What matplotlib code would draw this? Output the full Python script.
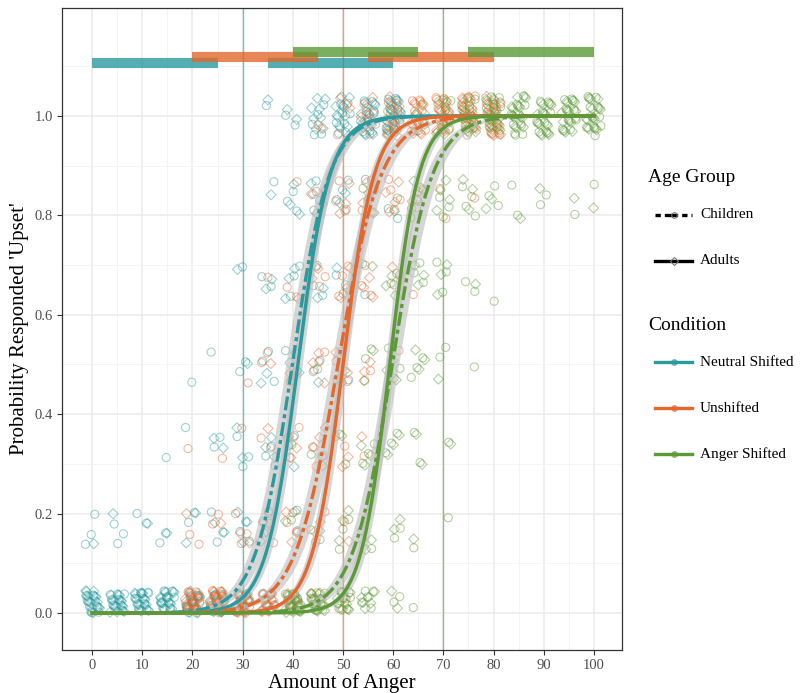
import numpy as np
import matplotlib
matplotlib.use('Agg')
import matplotlib.pyplot as plt
from matplotlib.lines import Line2D

plt.rcParams['font.family'] = ['Liberation Serif', 'DejaVu Serif']

# response levels (proportion of 6 trials answered 'upset')
levels = [0, 1/6, 2/6, 3/6, 4/6, 5/6, 1]

# stimulus levels shown to each condition
stim_neutral = [0, 5, 10, 15, 20, 25, 30, 35, 40, 45, 50, 55, 60]
stim_unshift = [20, 25, 30, 35, 40, 45, 50, 55, 60, 65, 70, 75, 80]
stim_anger = [40, 45, 50, 55, 60, 65, 70, 75, 80, 85, 90, 95, 100]

# counts of participants per level (rows) and stimulus (columns)
neutral_child = [[12, 12, 13, 12, 11, 9, 6, 3, 1, 0, 0, 0, 0],
                 [3, 3, 2, 2, 2, 3, 3, 2, 1, 0, 0, 0, 0],
                 [0, 0, 0, 1, 1, 2, 3, 3, 2, 1, 0, 0, 0],
                 [0, 0, 0, 0, 1, 1, 2, 3, 3, 2, 1, 0, 0],
                 [0, 0, 0, 0, 0, 0, 1, 2, 3, 3, 2, 1, 0],
                 [0, 0, 0, 0, 0, 0, 0, 1, 3, 4, 4, 3, 2],
                 [0, 0, 0, 0, 0, 0, 0, 1, 2, 5, 8, 11, 13]]
neutral_adult = [[14, 14, 14, 14, 13, 11, 8, 4, 1, 0, 0, 0, 0],
                 [1, 1, 1, 1, 2, 2, 3, 2, 1, 0, 0, 0, 0],
                 [0, 0, 0, 0, 0, 2, 2, 3, 2, 0, 0, 0, 0],
                 [0, 0, 0, 0, 0, 0, 1, 2, 3, 1, 0, 0, 0],
                 [0, 0, 0, 0, 0, 0, 1, 2, 3, 2, 1, 0, 0],
                 [0, 0, 0, 0, 0, 0, 0, 1, 3, 4, 2, 1, 0],
                 [0, 0, 0, 0, 0, 0, 0, 1, 2, 8, 12, 14, 15]]
unshift_child = [[12, 12, 10, 7, 4, 2, 1, 0, 0, 0, 0, 0, 0],
                 [2, 2, 3, 3, 3, 2, 1, 0, 0, 0, 0, 0, 0],
                 [1, 1, 1, 2, 3, 3, 2, 1, 0, 0, 0, 0, 0],
                 [0, 0, 1, 2, 2, 3, 3, 2, 1, 0, 0, 0, 0],
                 [0, 0, 0, 1, 2, 3, 3, 3, 2, 1, 0, 0, 0],
                 [0, 0, 0, 0, 1, 1, 3, 4, 4, 3, 2, 1, 0],
                 [0, 0, 0, 0, 0, 1, 2, 5, 8, 11, 13, 14, 15]]
unshift_adult = [[14, 14, 13, 11, 7, 3, 1, 0, 0, 0, 0, 0, 0],
                 [1, 1, 2, 2, 3, 2, 1, 0, 0, 0, 0, 0, 0],
                 [0, 0, 0, 1, 3, 3, 2, 1, 0, 0, 0, 0, 0],
                 [0, 0, 0, 1, 1, 3, 3, 2, 0, 0, 0, 0, 0],
                 [0, 0, 0, 0, 1, 2, 3, 3, 1, 0, 0, 0, 0],
                 [0, 0, 0, 0, 0, 1, 3, 4, 4, 2, 0, 0, 0],
                 [0, 0, 0, 0, 0, 1, 2, 5, 10, 13, 15, 15, 15]]
anger_child = [[12, 11, 8, 5, 2, 1, 0, 0, 0, 0, 0, 0, 0],
               [2, 2, 3, 3, 2, 1, 1, 0, 0, 0, 0, 0, 0],
               [1, 1, 2, 3, 3, 2, 1, 0, 0, 0, 0, 0, 0],
               [0, 1, 1, 2, 3, 3, 2, 1, 0, 0, 0, 0, 0],
               [0, 0, 1, 1, 3, 3, 3, 2, 1, 0, 0, 0, 0],
               [0, 0, 0, 1, 1, 3, 3, 4, 3, 2, 2, 1, 1],
               [0, 0, 0, 0, 1, 2, 5, 8, 11, 13, 13, 14, 14]]
anger_adult = [[14, 13, 10, 6, 2, 0, 0, 0, 0, 0, 0, 0, 0],
               [1, 1, 3, 3, 2, 1, 0, 0, 0, 0, 0, 0, 0],
               [0, 1, 1, 3, 3, 2, 1, 0, 0, 0, 0, 0, 0],
               [0, 0, 1, 2, 3, 3, 1, 0, 0, 0, 0, 0, 0],
               [0, 0, 0, 1, 3, 3, 3, 1, 0, 0, 0, 0, 0],
               [0, 0, 0, 0, 1, 3, 4, 3, 2, 1, 1, 1, 1],
               [0, 0, 0, 0, 1, 3, 6, 11, 13, 14, 14, 14, 14]]

# fitted logistic curves: midpoint, scale (children / adults)
fit_mid_child = [39.9, 49.0, 59.8]
fit_scale_child = [3.7, 4.3, 4.0]
fit_mid_adult = [41.0, 50.0, 59.3]
fit_scale_adult = [3.2, 3.1, 2.9]
band_child = 1.3   # CI half-width along x
band_adult = 0.9

# significance bars at the top: (start, end) per condition
bars_neutral = [(0, 25), (35, 60)]
bars_unshift = [(20, 45), (55, 80)]
bars_anger = [(40, 65), (75, 100)]
bar_y = [1.107, 1.118, 1.129]

crit_lines = [30, 50, 70]

conditions = ['Neutral Shifted', 'Unshifted', 'Anger Shifted']
colors = ['#2a9a9e', '#e2682d', '#5b9a37']


def logistic(x, m, s):
    return 1 / (1 + np.exp(-(x - m) / s))


fig = plt.figure(figsize=(8, 6.93), dpi=100)
ax = fig.add_axes([0.0775, 0.062, 0.7, 0.9264])

stims = [stim_neutral, stim_unshift, stim_anger]
child_counts = [neutral_child, unshift_child, anger_child]
adult_counts = [neutral_adult, unshift_adult, anger_adult]

# scatter, spread within each cluster (display jitter)
k = 0
for ci in range(3):
    for counts, marker, size in [(child_counts[ci], 'o', 34), (adult_counts[ci], 'D', 26)]:
        xs, ys = [], []
        for li, row in enumerate(counts):
            for si, n in enumerate(row):
                for j in range(n):
                    k += 1
                    dx = ((k * 0.6180339) % 1 - 0.5) * 3.0
                    u = (k * 0.7548777) % 1
                    if li == 0:
                        dy = u * 0.045
                    else:
                        dy = (u - 0.5) * 0.08
                    xs.append(stims[ci][si] + dx)
                    ys.append(levels[li] + dy)
        ax.scatter(xs, ys, marker=marker, s=size, facecolors='none',
                   edgecolors=colors[ci], linewidths=0.8, alpha=0.45, zorder=2)

# critical lines
for xv, c in zip(crit_lines, colors):
    ax.axvline(xv, color=c, lw=1.0, alpha=0.6, zorder=1.5)

# fitted curves
xx = np.linspace(0, 100, 400)
for ci in range(3):
    for m, s, bw, ls in [(fit_mid_child[ci], fit_scale_child[ci], band_child, (0, (4.2, 1.2, 1.2, 1.2))),
                         (fit_mid_adult[ci], fit_scale_adult[ci], band_adult, '-')]:
        lo = logistic(xx, m + bw, s)
        hi = logistic(xx, m - bw, s)
        ax.fill_between(xx, lo, hi, color='#bcbcbc', alpha=0.6, lw=0, zorder=3)
        ax.plot(xx, logistic(xx, m, s), color=colors[ci], lw=2.4, ls=ls, zorder=4)

# top bars
for bars, yv, c in zip([bars_neutral, bars_unshift, bars_anger], bar_y, colors):
    for a, b in bars:
        ax.hlines(yv, a, b, color=c, lw=7.3, alpha=0.8, capstyle='butt', zorder=5)

ax.set_xlim(-6, 105.6)
ax.set_ylim(-0.0744, 1.217)
ax.set_xticks(range(0, 101, 10))
ax.set_xticks(range(5, 101, 10), minor=True)
ax.set_yticks([0, 0.2, 0.4, 0.6, 0.8, 1.0])
ax.set_yticks([0.1, 0.3, 0.5, 0.7, 0.9, 1.1], minor=True)
ax.set_yticklabels(['0.0', '0.2', '0.4', '0.6', '0.8', '1.0'])
ax.grid(which='major', color='#ebebeb', lw=1.1, zorder=0)
ax.grid(which='minor', color='#f2f2f2', lw=0.6, zorder=0)
ax.set_axisbelow(True)
ax.tick_params(which='minor', length=0)
ax.tick_params(which='major', length=3.5, color='#333333', labelsize=10.5, labelcolor='#4d4d4d', pad=3)
for sp in ax.spines.values():
    sp.set_color('#333333')
    sp.set_linewidth(0.9)
ax.set_xlabel('Amount of Anger', fontsize=15, labelpad=1)
ax.set_ylabel("Probability Responded 'Upset'", fontsize=15, labelpad=4)


# legend drawn by hand
def fx(px):
    return px / 800


def fy(py):
    return 1 - py / 693


fig.text(fx(648), fy(178), 'Age Group', fontsize=14, va='center')
for py, label, ls, mk in [(215, 'Children', (0, (1.6, 1.2, 4, 1.2)), 'o'), (261, 'Adults', '-', 'D')]:
    fig.add_artist(Line2D([fx(655), fx(692)], [fy(py), fy(py)], color='black', lw=2.4, ls=ls))
    fig.add_artist(Line2D([fx(673.5)], [fy(py)], marker=mk, ms=4, mfc='none', mec='#777777', mew=0.8))
    fig.text(fx(700), fy(py), label, fontsize=11, va='center')

fig.text(fx(648), fy(326), 'Condition', fontsize=14, va='center')
for py, label, c in zip([362, 408, 454], conditions, colors):
    fig.add_artist(Line2D([fx(655), fx(692)], [fy(py), fy(py)], color=c, lw=2.4))
    fig.add_artist(Line2D([fx(673.5)], [fy(py)], marker='o', ms=4, mfc=c, mec=c, alpha=0.6))
    fig.text(fx(700), fy(py), label, fontsize=11, va='center')

fig.savefig('out.png', dpi=100)
